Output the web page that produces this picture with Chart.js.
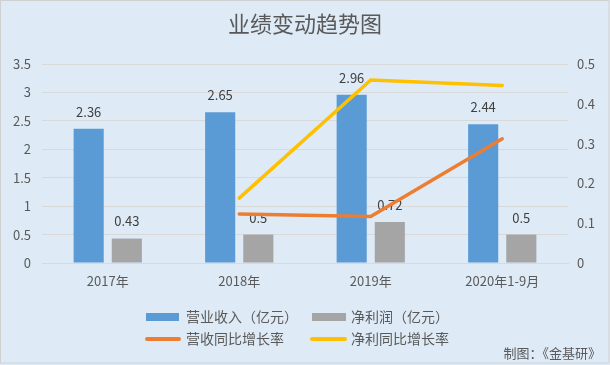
<!DOCTYPE html>
<html>
<head>
<meta charset="utf-8">
<script src="https://cdn.jsdelivr.net/npm/chart.js@4/dist/chart.umd.min.js"></script>
<style>
html,body{margin:0;padding:0;background:#fff;}
#wrap{position:relative;width:610px;height:365px;}
</style>
</head>
<body>
<div id="wrap"><canvas id="c" width="610" height="365"></canvas></div>
<script>
const categories = ['2017年', '2018年', '2019年', '2020年1-9月'];
const revenue = [2.36, 2.65, 2.96, 2.44];
const netProfit = [0.43, 0.5, 0.72, 0.5];
const revenueGrowth = [null, 0.123, 0.117, 0.312];
const profitGrowth = [null, 0.163, 0.46, 0.446];
const leftTicks = [0, 0.5, 1, 1.5, 2, 2.5, 3, 3.5];
const rightTicks = [0, 0.1, 0.2, 0.3, 0.4, 0.5];
const seriesNames = ['营业收入（亿元）', '净利润（亿元）', '营收同比增长率', '净利同比增长率'];
const titleText = '业绩变动趋势图';
const sourceText = '制图：《金基研》';

const FONT = '"Noto Sans CJK SC", "Noto Sans", sans-serif';
const TXT = '#595959';
const COLORS = ['#5B9BD5', '#A5A5A5', '#ED7D31', '#FFC000'];

const decor = {
  id: 'decor',
  beforeDraw(chart) {
    const ctx = chart.ctx;
    ctx.save();
    ctx.fillStyle = '#DEEBF7';
    ctx.fillRect(0, 0, 610, 365);
    ctx.strokeStyle = '#D0D0D0';
    ctx.lineWidth = 1;
    ctx.strokeRect(0.5, 0.5, 608.5, 362.5);
    ctx.fillStyle = TXT;
    ctx.font = '22px ' + FONT;
    ctx.textAlign = 'center';
    ctx.textBaseline = 'middle';
    ctx.fillText(titleText, 305, 24);
    ctx.restore();
  },
  afterDatasetDraw(chart, args) {
    const ds = chart.data.datasets[args.index];
    if (ds.type !== 'bar') return;
    const ctx = chart.ctx;
    ctx.save();
    ctx.fillStyle = '#404040';
    ctx.font = '13px ' + FONT;
    ctx.textAlign = 'center';
    ctx.textBaseline = 'middle';
    args.meta.data.forEach((el, i) => {
      ctx.fillText(String(ds.data[i]), el.x, el.y - 17);
    });
    ctx.restore();
  },
  afterDraw(chart) {
    const ctx = chart.ctx;
    ctx.save();
    ctx.font = '14px ' + FONT;
    ctx.fillStyle = TXT;
    ctx.textAlign = 'left';
    ctx.textBaseline = 'middle';
    ctx.fillStyle = COLORS[0];
    ctx.fillRect(146, 313, 33, 8);
    ctx.fillStyle = COLORS[1];
    ctx.fillRect(312, 313, 34, 8);
    ctx.fillStyle = TXT;
    ctx.fillText(seriesNames[0], 186, 317);
    ctx.fillText(seriesNames[1], 351, 317);
    ctx.lineWidth = 4;
    ctx.lineCap = 'round';
    ctx.strokeStyle = COLORS[2];
    ctx.beginPath(); ctx.moveTo(147, 339); ctx.lineTo(179, 339); ctx.stroke();
    ctx.strokeStyle = COLORS[3];
    ctx.beginPath(); ctx.moveTo(312, 339); ctx.lineTo(345, 339); ctx.stroke();
    ctx.fillText(seriesNames[2], 186, 339);
    ctx.fillText(seriesNames[3], 351, 339);
    ctx.font = '13px ' + FONT;
    ctx.textAlign = 'right';
    ctx.fillText(sourceText, 601, 353);
    ctx.restore();
  }
};

new Chart(document.getElementById('c'), {
  data: {
    labels: categories,
    datasets: [
      { type: 'bar', label: seriesNames[0], data: revenue, backgroundColor: COLORS[0], yAxisID: 'y', order: 2,
        categoryPercentage: 0.58, barPercentage: 0.79 },
      { type: 'bar', label: seriesNames[1], data: netProfit, backgroundColor: COLORS[1], yAxisID: 'y', order: 2,
        categoryPercentage: 0.58, barPercentage: 0.79 },
      { type: 'line', label: seriesNames[2], data: revenueGrowth, borderColor: COLORS[2], backgroundColor: COLORS[2],
        borderWidth: 3.5, pointRadius: 0, tension: 0, yAxisID: 'y1', order: 1, borderCapStyle: 'round' },
      { type: 'line', label: seriesNames[3], data: profitGrowth, borderColor: COLORS[3], backgroundColor: COLORS[3],
        borderWidth: 3.5, pointRadius: 0, tension: 0, yAxisID: 'y1', order: 0, borderCapStyle: 'round' }
    ]
  },
  options: {
    responsive: false,
    animation: false,
    devicePixelRatio: 1,
    layout: { padding: { top: 64, bottom: 72, left: 0, right: 0 } },
    plugins: { legend: { display: false }, tooltip: { enabled: false }, title: { display: false } },
    scales: {
      x: {
        offset: true,
        grid: { display: false, drawTicks: false },
        border: { display: true, color: '#D9D9D9' },
        ticks: { color: TXT, font: { family: FONT, size: 13 }, padding: 10, maxRotation: 0 },
        afterFit(s) { s.height = 30; }
      },
      y: {
        position: 'left', min: 0, max: 3.5,
        afterBuildTicks(s) { s.ticks = leftTicks.map(v => ({ value: v })); },
        grid: { color: '#D9D9D9', drawTicks: false },
        border: { display: false },
        ticks: { color: TXT, font: { family: FONT, size: 13 }, padding: 11, callback: v => String(+(+v).toFixed(1)) },
        afterFit(s) { s.width = 42; }
      },
      y1: {
        position: 'right', min: 0, max: 0.5,
        afterBuildTicks(s) { s.ticks = rightTicks.map(v => ({ value: v })); },
        grid: { display: false, drawTicks: false },
        border: { display: false },
        ticks: { color: TXT, font: { family: FONT, size: 13 }, padding: 9, callback: v => String(+(+v).toFixed(1)) },
        afterFit(s) { s.width = 42; }
      }
    }
  },
  plugins: [decor]
});
</script>
</body>
</html>
